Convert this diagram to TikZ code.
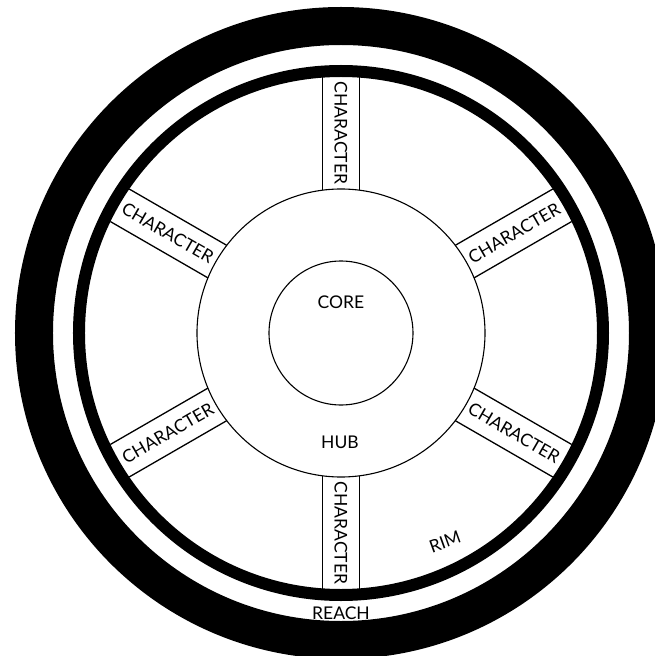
\documentclass[tikz,border=0pt]{standalone}
\usepackage{fontspec}
\setmainfont{Lato}
\usepackage{tikz}

\tikzset{
  spokeline/.style={line width=1.3pt},
  ringline/.style={line width=1.1pt},
  wheeltext/.style={font=\fontsize{17.5}{17.5}\selectfont, inner sep=1pt}
}

\begin{document}
\begin{tikzpicture}[x=1pt,y=1pt]
    \useasboundingbox (-341,-323) rectangle (314,333);
    \clip (-341,-323) rectangle (314,333);
    \fill[white] (-341,-323) rectangle (314,333);

    % reach and rim
    \draw[line width=38pt] (0,0) circle (307);
    \draw[line width=12pt] (0,0) circle (262);

    % spokes
    \foreach \ang in {90,30,-30,-90,210,150} {
      \draw[spokeline, rotate=\ang] (142.8,18.8) -- (255.5,18.8);
      \draw[spokeline, rotate=\ang] (142.8,-18.8) -- (255.5,-18.8);
    }

    \draw[ringline] (0,0) circle (144);
    \draw[ringline] (0,0) circle (72);

    \node[wheeltext, rotate=-90] (chartop) at (90:200) {CHARACTER};
    \node[wheeltext, rotate=30] (charur) at (30:200) {CHARACTER};
    \node[wheeltext, rotate=-30] (charlr) at (-30:200) {CHARACTER};
    \node[wheeltext, rotate=-90] (charbot) at (-90:200) {CHARACTER};
    \node[wheeltext, rotate=30] (charll) at (210:200) {CHARACTER};
    \node[wheeltext, rotate=-30] (charul) at (150:200) {CHARACTER};

    \node[wheeltext] (core) at (0,31) {CORE};
    \node[wheeltext] (hub) at (-1,-109) {HUB};
    \node[wheeltext, rotate=20] (rim) at (104,-209) {RIM};
    \node[wheeltext] (reach) at (0,-280) {REACH};
  \end{tikzpicture}
\end{document}
